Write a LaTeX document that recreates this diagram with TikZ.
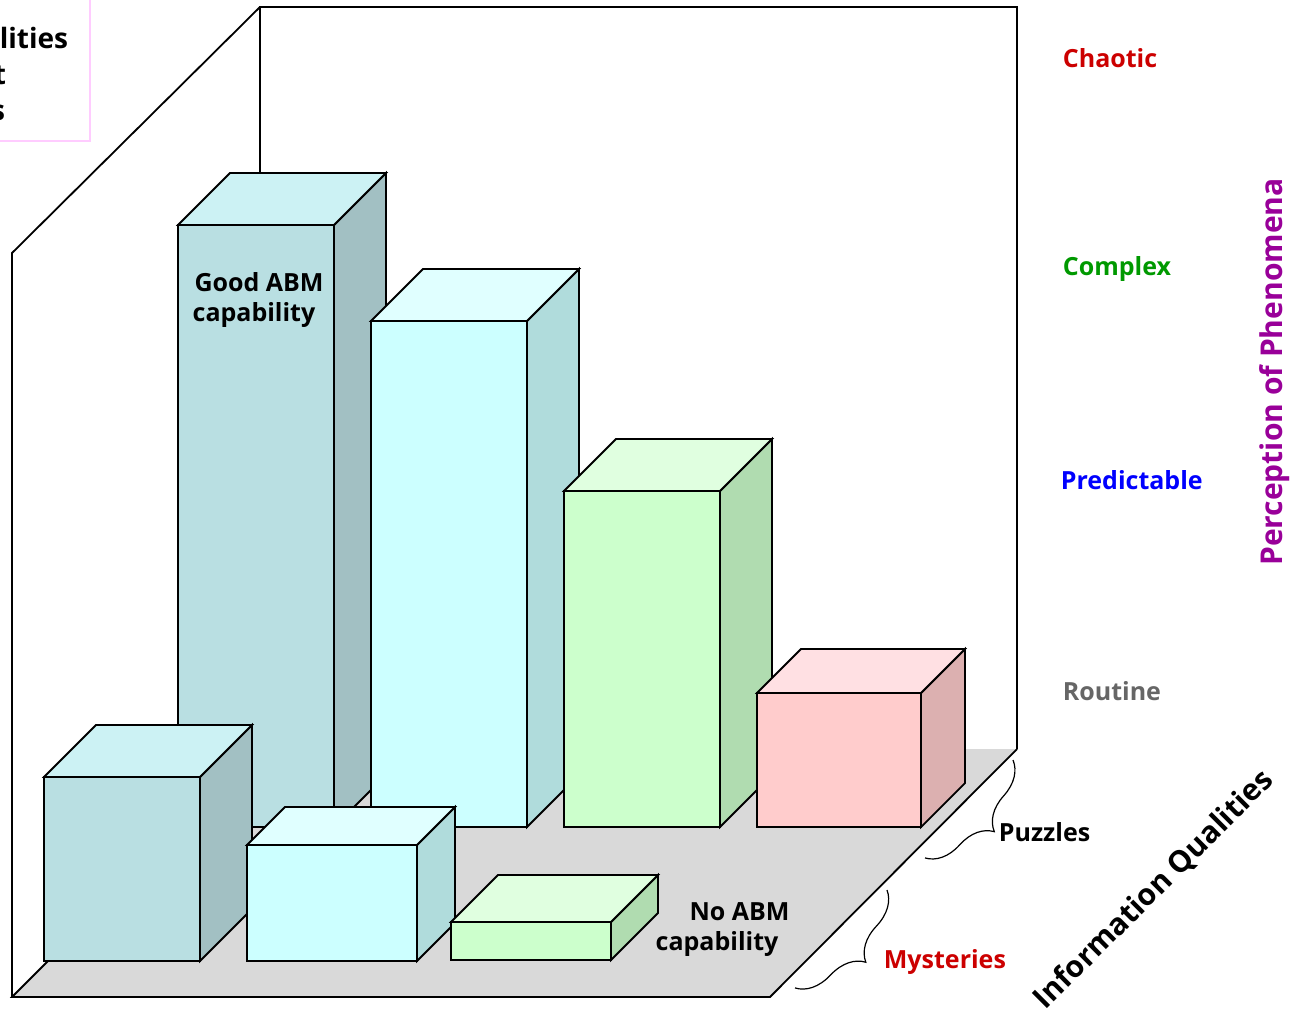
\documentclass[tikz,border=0pt]{standalone}
\usepackage{fontspec}
\setmainfont{Open Sans}
\usetikzlibrary{decorations.pathreplacing}
\definecolor{tealF}{HTML}{B9DFE2}
\definecolor{tealS}{HTML}{A2C0C3}
\definecolor{tealT}{HTML}{CCF2F4}
\definecolor{cyanF}{HTML}{CCFFFF}
\definecolor{cyanS}{HTML}{B0DCDC}
\definecolor{cyanT}{HTML}{E0FFFF}
\definecolor{grnF}{HTML}{CCFFCC}
\definecolor{grnS}{HTML}{B0DCB0}
\definecolor{grnT}{HTML}{E0FFE0}
\definecolor{pnkF}{HTML}{FFCCCC}
\definecolor{pnkS}{HTML}{DCB0B0}
\definecolor{pnkT}{HTML}{FFE0E3}
\definecolor{floorC}{HTML}{D9D9D9}
\definecolor{redT}{HTML}{CC0000}
\definecolor{grnTx}{HTML}{009900}
\definecolor{bluT}{HTML}{0000FF}
\definecolor{grayT}{HTML}{666666}
\definecolor{purT}{HTML}{990099}
\definecolor{boxline}{HTML}{FFCCFF}
\newcommand\abmcube[8]{%
  \filldraw[fill=#6] (#1,#2) rectangle (#1+#3,#4);
  \filldraw[fill=#7] (#1+#3,#2) -- (#1+#3+#5,#2-#5) -- (#1+#3+#5,#4-#5) -- (#1+#3,#4) -- cycle;
  \filldraw[fill=#8] (#1,#2) -- (#1+#5,#2-#5) -- (#1+#3+#5,#2-#5) -- (#1+#3,#2) -- cycle;
}
\tikzset{
  lbl/.style={font=\bfseries\fontsize{25}{30}\selectfont, inner sep=0pt},
  lblbig/.style={font=\bfseries\fontsize{30}{36}\selectfont, inner sep=0pt},
  lblc/.style={lbl, align=center},
  bracestyle/.style={decorate, decoration={brace, amplitude=34pt}, line width=1.2pt},
}
\begin{document}
\begin{tikzpicture}[x=1pt, y=-1pt, line width=1.8pt, line join=miter]
\useasboundingbox (0,0) rectangle (1293,1015);
% top-left cropped text box
\draw[boxline, line width=1.5pt] (-5,141) -- (90,141) -- (90,-5);
\node[lbl, anchor=west, font=\bfseries\fontsize{28}{30}\selectfont] (tl1) at (-1,38) {lities};
\node[lbl, anchor=east, font=\bfseries\fontsize{28}{30}\selectfont] (tl2) at (7,75) {t};
\node[lbl, anchor=east, font=\bfseries\fontsize{28}{30}\selectfont] (tl3) at (6,113) {s};
% walls
\fill[white] (260,7) rectangle (1017,749);
\fill[white] (12,253) -- (260,7) -- (260,749) -- (12,997) -- cycle;
\draw (260,749) -- (260,7) -- (1017,7) -- (1017,749);
\draw (12,997) -- (12,253) -- (260,7);
% floor
\fill[floorC] (12,997) -- (260,749) -- (1017,749) -- (770,997) -- cycle;
\draw (260,749) -- (12,997) -- (770,997) -- (1017,749);
% back row
\abmcube{178}{225}{156}{827}{52}{tealF}{tealS}{tealT}
\abmcube{371}{321}{156}{827}{52}{cyanF}{cyanS}{cyanT}
\abmcube{564}{491}{156}{827}{52}{grnF}{grnS}{grnT}
\abmcube{757}{693}{164}{827}{44}{pnkF}{pnkS}{pnkT}
% front row
\abmcube{44}{777}{156}{961}{52}{tealF}{tealS}{tealT}
\abmcube{247}{845}{170}{961}{38}{cyanF}{cyanS}{cyanT}
\abmcube{451}{922}{160}{960}{47}{grnF}{grnS}{grnT}
% box labels
\node[lblc] (good) at (254,300) {\hspace*{10pt}Good ABM\\capability};
\node[lblc] (noabm) at (717,930) {\hspace*{45pt}No ABM\\capability};
% right labels
\node[lbl, anchor=west, text=redT] (chaotic) at (1062,58) {Chaotic};
\node[lbl, anchor=west, text=grnTx] (complex) at (1062,269) {Complex};
\node[lbl, anchor=west, text=bluT] (pred) at (1060,480) {Predictable};
\node[lbl, anchor=west, text=grayT] (routine) at (1062,691) {Routine};
\node[lblbig, text=purT, rotate=90] (perc) at (1275,372) {Perception of Phenomena};
% braces
\coordinate (pzA) at (1013,760);
\coordinate (pzB) at (925,858);
\coordinate (myA) at (887,890);
\coordinate (myB) at (795,988);
\draw[bracestyle] (pzA) -- (pzB);
\draw[bracestyle] (myA) -- (myB);
\node[lbl, anchor=west] (puzzles) at (998,832) {Puzzles};
\node[lbl, anchor=west, text=redT] (myst) at (883,962) {Mysteries};
\node[lblbig, rotate=45] (infoq) at (1154,890) {Information Qualities};
\end{tikzpicture}
\end{document}
